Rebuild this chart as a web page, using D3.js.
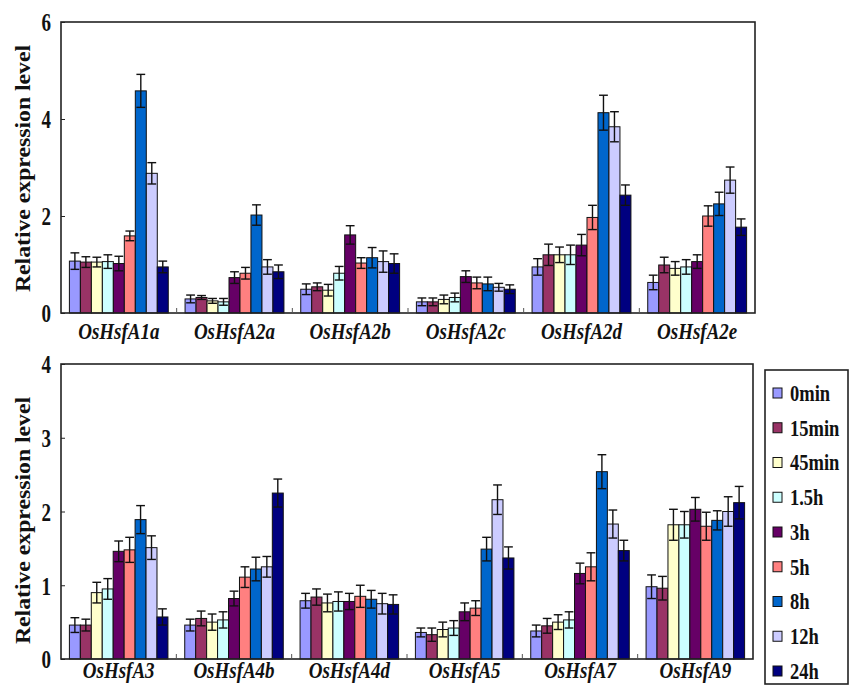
<!DOCTYPE html>
<html>
<head>
<meta charset="utf-8">
<script src="https://cdn.jsdelivr.net/npm/d3@7/dist/d3.min.js"></script>
<style>
  body { margin: 0; background: #fff; }
  text { font-family: "Liberation Serif", "Times New Roman", serif; font-weight: bold; }
</style>
</head>
<body>
<svg id="chart" width="850" height="685"></svg>
<script>
const seriesLabels = ["0min", "15min", "45min", "1.5h", "3h", "5h", "8h", "12h", "24h"];
const seriesColors = ["#9999ff", "#993366", "#ffffcc", "#ccffff", "#660066", "#ff8080", "#0066cc", "#ccccff", "#000080"];

const genesTop = ["OsHsfA1a", "OsHsfA2a", "OsHsfA2b", "OsHsfA2c", "OsHsfA2d", "OsHsfA2e"];
const valuesTop = [
  [1.07, 1.05, 1.05, 1.06, 1.02, 1.59, 4.58, 2.88, 0.95],
  [0.29, 0.32, 0.25, 0.23, 0.73, 0.82, 2.02, 0.95, 0.85],
  [0.49, 0.54, 0.47, 0.82, 1.61, 1.03, 1.14, 1.06, 1.02],
  [0.23, 0.23, 0.28, 0.32, 0.75, 0.62, 0.60, 0.53, 0.49],
  [0.95, 1.20, 1.20, 1.20, 1.40, 1.97, 4.13, 3.84, 2.43],
  [0.63, 0.99, 0.92, 0.95, 1.06, 2.00, 2.25, 2.74, 1.77]
];
const errorsTop = [
  [0.17, 0.11, 0.10, 0.14, 0.15, 0.10, 0.34, 0.22, 0.12],
  [0.08, 0.04, 0.05, 0.07, 0.12, 0.12, 0.21, 0.15, 0.14],
  [0.11, 0.08, 0.12, 0.14, 0.19, 0.11, 0.21, 0.22, 0.20],
  [0.08, 0.08, 0.09, 0.09, 0.12, 0.12, 0.14, 0.08, 0.09],
  [0.17, 0.22, 0.16, 0.20, 0.22, 0.25, 0.36, 0.31, 0.21],
  [0.15, 0.16, 0.14, 0.15, 0.14, 0.21, 0.24, 0.27, 0.17]
];
const ticksTop = [0, 2, 4, 6];

const genesBottom = ["OsHsfA3", "OsHsfA4b", "OsHsfA4d", "OsHsfA5", "OsHsfA7", "OsHsfA9"];
const valuesBottom = [
  [0.46, 0.46, 0.90, 0.95, 1.46, 1.48, 1.89, 1.51, 0.57],
  [0.46, 0.55, 0.50, 0.53, 0.82, 1.11, 1.22, 1.25, 2.25],
  [0.79, 0.84, 0.76, 0.78, 0.78, 0.85, 0.81, 0.75, 0.74],
  [0.36, 0.33, 0.40, 0.42, 0.64, 0.69, 1.49, 2.16, 1.37],
  [0.38, 0.45, 0.50, 0.53, 1.16, 1.25, 2.54, 1.83, 1.47],
  [0.98, 0.96, 1.82, 1.82, 2.03, 1.80, 1.88, 2.00, 2.12]
];
const errorsBottom = [
  [0.10, 0.08, 0.14, 0.14, 0.14, 0.17, 0.19, 0.16, 0.11],
  [0.08, 0.10, 0.11, 0.11, 0.10, 0.14, 0.16, 0.14, 0.19],
  [0.10, 0.11, 0.12, 0.13, 0.11, 0.15, 0.12, 0.14, 0.13],
  [0.06, 0.09, 0.10, 0.10, 0.12, 0.10, 0.16, 0.20, 0.15],
  [0.08, 0.10, 0.10, 0.11, 0.14, 0.19, 0.23, 0.19, 0.14],
  [0.16, 0.16, 0.21, 0.18, 0.16, 0.19, 0.13, 0.20, 0.22]
];
const ticksBottom = [0, 1, 2, 3, 4];

const svg = d3.select("#chart");
const color = d3.scaleOrdinal().domain(seriesLabels).range(seriesColors);
// the source picture is a little stretched vertically, text too
const SY = 1.2;

function drawPanel(box, genes, values, errors, ticks) {
  const g = svg.append("g").attr("class", "panel");

  const x0 = d3.scaleBand().domain(genes).range([box.left, box.right]);
  const pad = 8.4;
  const x1 = d3.scaleBand().domain(seriesLabels).range([pad, x0.bandwidth() - pad]);
  const y = d3.scaleLinear().domain([0, d3.max(ticks)]).range([box.bottom, box.top]);
  const bw = x1.bandwidth();

  const rows = genes.map((gene, gi) =>
    seriesLabels.map((s, si) => ({ gene, s, v: values[gi][si], e: errors[gi][si] }))
  );

  const groups = g.selectAll("g.gene")
    .data(rows)
    .join("g")
    .attr("class", "gene")
    .attr("transform", (d, i) => `translate(${x0(genes[i])},0)`);

  groups.selectAll("rect")
    .data(d => d)
    .join("rect")
    .attr("x", d => x1(d.s))
    .attr("y", d => y(d.v))
    .attr("width", bw)
    .attr("height", d => y(0) - y(d.v))
    .attr("fill", d => color(d.s))
    .attr("stroke", "#111")
    .attr("stroke-width", 1);

  // error bars (drawn up and down, lower cap shows inside the bar)
  const eb = groups.selectAll("g.err")
    .data(d => d)
    .join("g")
    .attr("class", "err")
    .attr("stroke", "#111")
    .attr("stroke-width", 1.4);
  const cx = d => x1(d.s) + bw / 2;
  const cw = bw * 0.4;
  eb.append("line")
    .attr("x1", cx).attr("x2", cx)
    .attr("y1", d => y(d.v - d.e)).attr("y2", d => y(d.v + d.e));
  eb.append("line")
    .attr("x1", d => cx(d) - cw).attr("x2", d => cx(d) + cw)
    .attr("y1", d => y(d.v + d.e)).attr("y2", d => y(d.v + d.e));
  eb.append("line")
    .attr("x1", d => cx(d) - cw).attr("x2", d => cx(d) + cw)
    .attr("y1", d => y(d.v - d.e)).attr("y2", d => y(d.v - d.e));

  // frame
  g.append("rect")
    .attr("x", box.left).attr("y", box.top)
    .attr("width", box.right - box.left).attr("height", box.bottom - box.top)
    .attr("fill", "none").attr("stroke", "#222").attr("stroke-width", 1.6);

  // y axis
  const yAxis = d3.axisLeft(y).tickValues(ticks).tickSize(-4).tickPadding(10).tickFormat(d3.format("d"));
  const ya = g.append("g").attr("transform", `translate(${box.left},0)`).call(yAxis);
  ya.select(".domain").remove();
  ya.selectAll("line").attr("stroke", "#222");
  ya.selectAll("text")
    .attr("font-size", "19px")
    .attr("fill", "#111")
    .attr("dy", "0.36em")
    .attr("transform", "scale(1,1.3)")
    .style("font-family", "'Liberation Serif', serif")
    .style("font-weight", "bold");

  // separators between gene groups on the x axis
  g.selectAll("line.sep")
    .data(genes.slice(1))
    .join("line")
    .attr("class", "sep")
    .attr("x1", d => x0(d)).attr("x2", d => x0(d))
    .attr("y1", box.bottom).attr("y2", box.bottom - 5)
    .attr("stroke", "#555").attr("stroke-width", 1);

  // gene labels
  g.selectAll("text.gene-label")
    .data(genes)
    .join("text")
    .attr("class", "gene-label")
    .attr("transform", d => `translate(${x0(d) + x0.bandwidth() / 2},${box.bottom + box.labelOffset}) scale(1,${SY})`)
    .attr("text-anchor", "middle")
    .attr("font-size", "19px")
    .attr("font-style", "italic")
    .attr("fill", "#111")
    .text(d => d);

  // y title
  g.append("text")
    .attr("transform", `translate(23,${(box.top + box.bottom) / 2 + box.titleShift}) rotate(-90) scale(1.13,1)`)
    .attr("text-anchor", "middle")
    .attr("dy", "0.35em")
    .attr("font-size", "21px")
    .attr("fill", "#111")
    .text("Relative expression level");
}

drawPanel({ left: 61, right: 755, top: 22, bottom: 313, labelOffset: 26, titleShift: 1 },
  genesTop, valuesTop, errorsTop, ticksTop);
drawPanel({ left: 61, right: 753, top: 364, bottom: 659, labelOffset: 18.5, titleShift: 9 },
  genesBottom, valuesBottom, errorsBottom, ticksBottom);

// legend
const legend = svg.append("g").attr("class", "legend");
legend.append("rect")
  .attr("x", 765).attr("y", 370).attr("width", 83).attr("height", 314)
  .attr("fill", "#fff").attr("stroke", "#222").attr("stroke-width", 1.6);
const ly = d3.scalePoint().domain(seriesLabels).range([393, 671]);
const items = legend.selectAll("g.item")
  .data(seriesLabels)
  .join("g")
  .attr("class", "item")
  .attr("transform", d => `translate(773,${ly(d)})`);
items.append("rect")
  .attr("x", 0).attr("y", -5).attr("width", 9).attr("height", 10)
  .attr("fill", d => color(d)).attr("stroke", "#111").attr("stroke-width", 1);
items.append("text")
  .attr("x", 0).attr("y", 0)
  .attr("transform", `translate(17,0) scale(1,${SY})`)
  .attr("dy", "0.35em")
  .attr("font-size", "18.5px")
  .attr("fill", "#111")
  .text(d => d);
</script>
</body>
</html>
